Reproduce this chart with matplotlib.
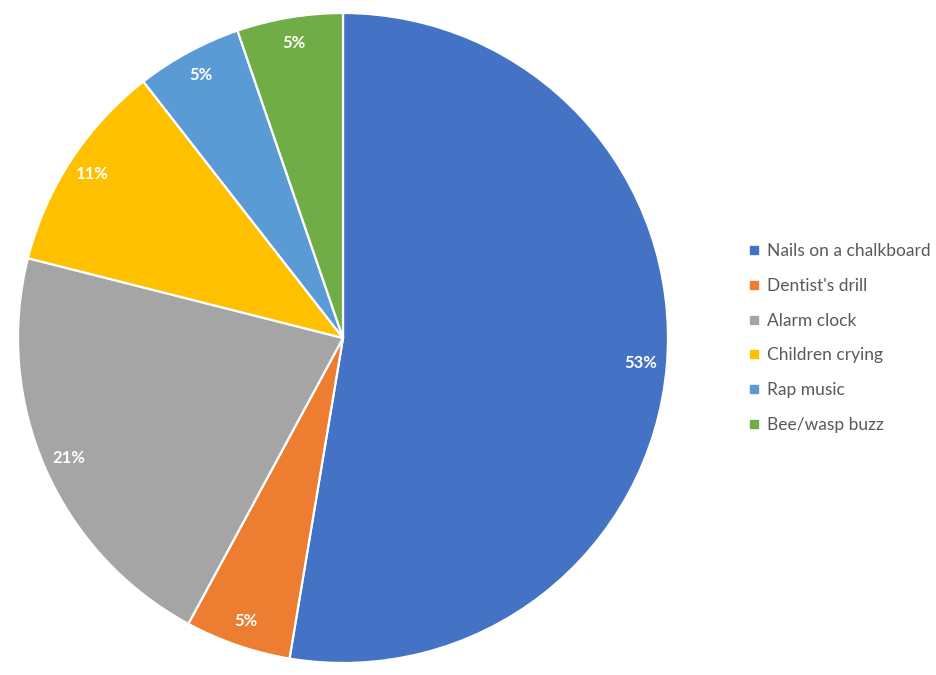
import matplotlib
matplotlib.use("Agg")
import matplotlib.pyplot as plt
from matplotlib.lines import Line2D

categories = ["Nails on a chalkboard", "Dentist's drill", "Alarm clock",
              "Children crying", "Rap music", "Bee/wasp buzz"]
counts = [10, 1, 4, 2, 1, 1]
colors = ["#4472C4", "#ED7D31", "#A5A5A5", "#FFC000", "#5B9BD5", "#70AD47"]

W, H = 937, 675
fig = plt.figure(figsize=(W / 100, H / 100), dpi=100)
cx, cy, r = 343, 338, 325
ax = fig.add_axes([(cx - r) / W, (H - cy - r) / H, 2 * r / W, 2 * r / H])

wedges, texts, autotexts = ax.pie(
    counts, colors=colors, startangle=90, counterclock=False,
    autopct=lambda p: f"{p:.0f}%", pctdistance=0.92,
    wedgeprops=dict(edgecolor="white", linewidth=1.6),
    textprops=dict(color="white", fontsize=12, fontweight="bold",
                   family="Lato"))
ax.set_xlim(-1, 1)
ax.set_ylim(-1, 1)
ax.set_aspect("equal")
ax.axis("off")

handles = [Line2D([0], [0], marker="s", linestyle="none", markersize=6,
                  markerfacecolor=c, markeredgecolor=c) for c in colors]
leg = fig.legend(handles, categories, loc="center left",
                 bbox_to_anchor=(733 / W, 1 - 338 / H), frameon=False,
                 handlelength=0.6, handletextpad=0.45, labelspacing=1.08,
                 prop=dict(family="Lato", size=12.5))
for t in leg.get_texts():
    t.set_color("#595959")

fig.savefig("out.png", dpi=100)
